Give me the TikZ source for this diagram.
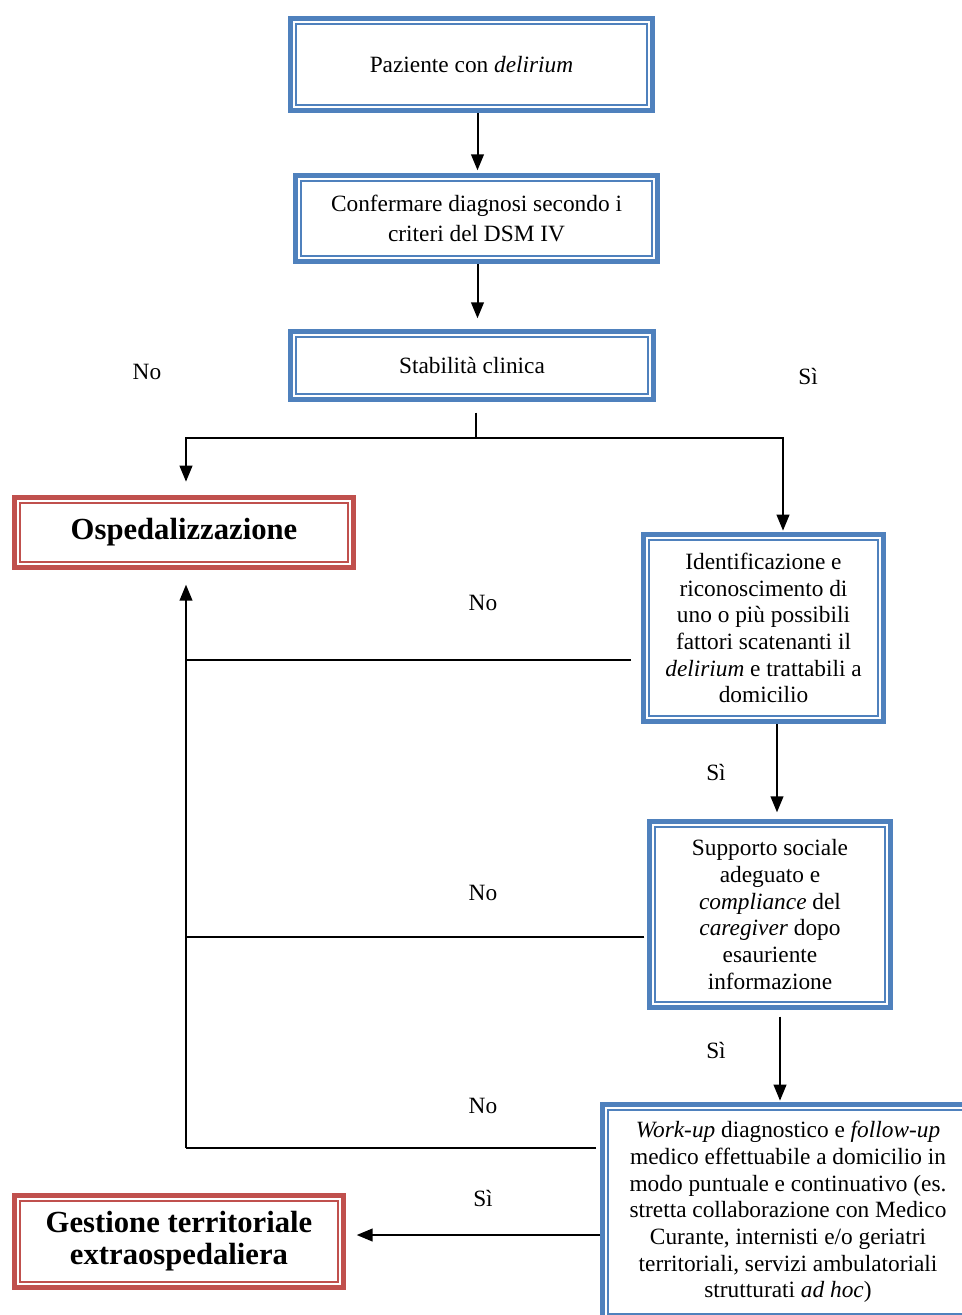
\documentclass[tikz,border=0pt]{standalone}
\usepackage{fontspec}
\setmainfont{Liberation Serif}
\usetikzlibrary{arrows.meta,calc}
\definecolor{frameblue}{RGB}{79,129,189}
\definecolor{framered}{RGB}{192,80,77}
\newcommand{\bodysize}{\fontsize{17.5}{20}\selectfont}
\newcommand{\headsize}{\fontsize{23}{24}\selectfont\bfseries}

\begin{document}
\begin{tikzpicture}[x=0.75pt,y=-0.75pt,
  frame/.style={rectangle, draw=#1, line width=4pt, outer sep=2pt, fill=white,
    align=center, inner sep=0pt},
  bluebox/.style={frame=frameblue, font=\bodysize},
  redbox/.style={frame=framered, font=\headsize},
  link/.style={line width=1.5pt},
  arr/.style={link, -{Triangle[length=12pt,width=9.5pt]}},
  lbl/.style={font=\bodysize, inner sep=0pt},
]
\useasboundingbox (0,0) rectangle (962,1315);
\clip (0,0) rectangle (962,1315);

% boxes
\node[bluebox, minimum width=271.25pt, minimum height=68.75pt] (p1) at (471.5,64.5)
  {Paziente con \textit{delirium}};
\node[bluebox, minimum width=271.25pt, minimum height=64.25pt] (p2) at (476.5,218.5)
  {Confermare diagnosi secondo i\\[2pt]criteri del DSM IV};
\node[bluebox, minimum width=272pt, minimum height=50.75pt] (p3) at (472,365.5)
  {Stabilità clinica};
\node[redbox, minimum width=254pt, minimum height=52.25pt] (osp) at (184,532.5)
  {Ospedalizzazione};
\node[bluebox, minimum width=179.75pt, minimum height=140pt] (id) at (763.5,628)
  {Identificazione e\\riconoscimento di\\uno o più possibili\\fattori scatenanti il\\\textit{delirium} e trattabili a\\domicilio};
\node[bluebox, minimum width=180.5pt, minimum height=139.25pt] (sup) at (770,914.5)
  {Supporto sociale\\adeguato e\\\textit{compliance} del\\\textit{caregiver} dopo\\esauriente\\informazione};
\node[bluebox, minimum width=278pt, minimum height=161pt] (wu) at (788,1212)
  {\textit{Work-up} diagnostico e \textit{follow-up}\\medico effettuabile a domicilio in\\modo puntuale e continuativo (es.\\stretta collaborazione con Medico\\Curante, internisti e/o geriatri\\territoriali, servizi ambulatoriali\\strutturati \textit{ad hoc})};
\node[redbox, minimum width=246.5pt, minimum height=68.75pt] (ges) at (179,1241.5)
  {Gestione territoriale\\extraospedaliera};

% inner thin frame of each box
\foreach \n/\c in {p1/frameblue,p2/frameblue,p3/frameblue,id/frameblue,
                   sup/frameblue,wu/frameblue,osp/framered,ges/framered}
  \draw[\c, line width=1.2pt] ([shift={(6.1pt,-6.1pt)}]\n.north west)
    rectangle ([shift={(-6.1pt,6.1pt)}]\n.south east);

% guide coordinates for the connectors
\coordinate (colC) at (477.5,0);
\coordinate (colA) at (777,0);
\coordinate (colB) at (780,0);
\coordinate (colD) at (783,0);
\coordinate (split) at (476,438);
\coordinate (join) at (186,1148);
\coordinate (rowA) at (0,660);
\coordinate (rowB) at (0,937);
\coordinate (siRow) at (0,1235);

% main column
\draw[arr] (p1.south -| colC) -- ([yshift=2pt]p2.north -| colC);
\draw[arr] (p2.south -| colC) -- ([yshift=8pt]p3.north -| colC);
\draw[link] ([yshift=-8pt]p3.south -| split) -- (split);
\draw[arr] (split) -| ([yshift=10pt]osp.north -| join);
\draw[arr] (split) -| ([yshift=1pt]id.north -| colD);
\draw[arr] (id.south -| colA) -- ([yshift=5pt]sup.north -| colA);
\draw[arr] ([yshift=-5pt]sup.south -| colB) -- ([yshift=1pt]wu.north -| colB);
\draw[arr] (wu.west |- siRow) -- ([xshift=8pt]ges.east |- siRow);

% return lines to hospitalisation
\draw[link] ([xshift=-7.5pt]id.west |- rowA) -- (join |- rowA);
\draw[link] ([xshift=-2pt]sup.west |- rowB) -- (join |- rowB);
\draw[link] ([xshift=-3pt]wu.west |- join) -- (join);
\draw[arr] (join) -- ([yshift=-11pt]osp.south -| join);

% branch labels
\node[lbl] (n1) at (147,372) {No};
\node[lbl] (s1) at (808,376) {Sì};
\node[lbl] (n2) at (483,603) {No};
\node[lbl] (s2) at (716,772) {Sì};
\node[lbl] (n3) at (483,893) {No};
\node[lbl] (s3) at (716,1050) {Sì};
\node[lbl] (n4) at (483,1106) {No};
\node[lbl] (s4) at (483,1198) {Sì};
\end{tikzpicture}
\end{document}
